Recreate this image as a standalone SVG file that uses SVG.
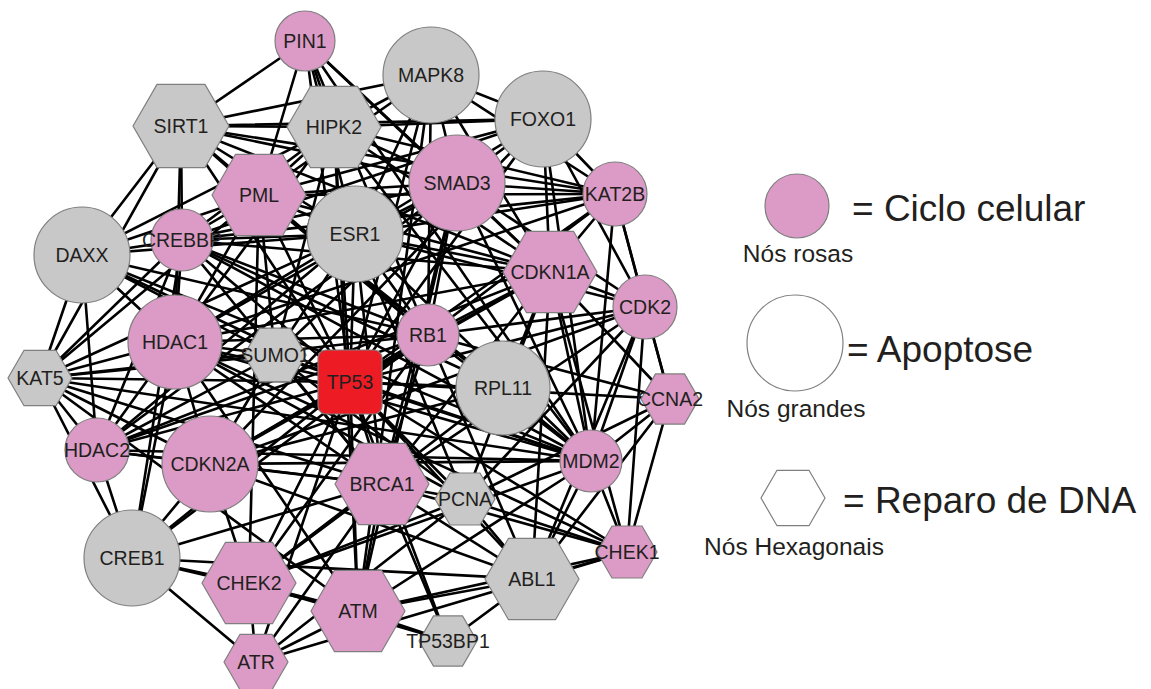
<svg xmlns="http://www.w3.org/2000/svg" width="1151" height="689" viewBox="0 0 1151 689">
  <style>
    .edges line { stroke: #000; stroke-width: 2.6; stroke-linecap: round; }
    .pink { fill: #DC9BC6; stroke: #7F7F7F; stroke-width: 1.2; }
    .grey { fill: #C8C8C8; stroke: #7F7F7F; stroke-width: 1.2; }
    .hub { fill: #ED1C24; stroke: #7F7F7F; stroke-width: 1.2; }
    .lbl { font-family: "Liberation Sans", Arial, sans-serif; font-size: 19.5px; fill: #231F20; text-anchor: middle; }
    .leg { font-family: "Liberation Sans", Arial, sans-serif; font-size: 37px; fill: #231F20; }
    .sub { font-family: "Liberation Sans", Arial, sans-serif; font-size: 24.5px; fill: #231F20; text-anchor: middle; }
  </style>
  <rect width="1151" height="689" fill="#fff"/>

  <!-- interaction edges, drawn centre to centre beneath the nodes -->
  <g id="edges" class="edges">
    <!-- TP53 hub -->
    <line x1="350" y1="382" x2="305" y2="41"/>
    <line x1="350" y1="382" x2="181" y2="126"/>
    <line x1="350" y1="382" x2="334" y2="127"/>
    <line x1="350" y1="382" x2="431" y2="75"/>
    <line x1="350" y1="382" x2="543" y2="119"/>
    <line x1="350" y1="382" x2="457" y2="183"/>
    <line x1="350" y1="382" x2="615" y2="194"/>
    <line x1="350" y1="382" x2="259" y2="195"/>
    <line x1="350" y1="382" x2="182" y2="240"/>
    <line x1="350" y1="382" x2="355" y2="234"/>
    <line x1="350" y1="382" x2="82" y2="255"/>
    <line x1="350" y1="382" x2="550" y2="272"/>
    <line x1="350" y1="382" x2="645" y2="307"/>
    <line x1="350" y1="382" x2="175" y2="342"/>
    <line x1="350" y1="382" x2="275" y2="355"/>
    <line x1="350" y1="382" x2="428" y2="335"/>
    <line x1="350" y1="382" x2="503" y2="388"/>
    <line x1="350" y1="382" x2="40" y2="378"/>
    <line x1="350" y1="382" x2="670" y2="399"/>
    <line x1="350" y1="382" x2="97" y2="450"/>
    <line x1="350" y1="382" x2="210" y2="464"/>
    <line x1="350" y1="382" x2="382" y2="484"/>
    <line x1="350" y1="382" x2="465" y2="499"/>
    <line x1="350" y1="382" x2="591" y2="461"/>
    <line x1="350" y1="382" x2="627" y2="552"/>
    <line x1="350" y1="382" x2="132" y2="558"/>
    <line x1="350" y1="382" x2="249" y2="583"/>
    <line x1="350" y1="382" x2="532" y2="579"/>
    <line x1="350" y1="382" x2="358" y2="611"/>
    <line x1="350" y1="382" x2="448" y2="641"/>
    <line x1="350" y1="382" x2="256" y2="662"/>
    <!-- PIN1 -->
    <line x1="305" y1="41" x2="181" y2="126"/>
    <line x1="305" y1="41" x2="259" y2="195"/>
    <line x1="305" y1="41" x2="334" y2="127"/>
    <line x1="305" y1="41" x2="457" y2="183"/>
    <line x1="305" y1="41" x2="355" y2="234"/>
    <line x1="305" y1="41" x2="428" y2="335"/>
    <line x1="305" y1="41" x2="591" y2="461"/>
    <line x1="305" y1="41" x2="550" y2="272"/>
    <!-- SIRT1 -->
    <line x1="181" y1="126" x2="334" y2="127"/>
    <line x1="181" y1="126" x2="431" y2="75"/>
    <line x1="181" y1="126" x2="543" y2="119"/>
    <line x1="181" y1="126" x2="259" y2="195"/>
    <line x1="181" y1="126" x2="82" y2="255"/>
    <line x1="181" y1="126" x2="182" y2="240"/>
    <line x1="181" y1="126" x2="175" y2="342"/>
    <line x1="181" y1="126" x2="355" y2="234"/>
    <line x1="181" y1="126" x2="550" y2="272"/>
    <line x1="181" y1="126" x2="428" y2="335"/>
    <line x1="181" y1="126" x2="615" y2="194"/>
    <line x1="181" y1="126" x2="40" y2="378"/>
    <line x1="181" y1="126" x2="457" y2="183"/>
    <!-- HIPK2 -->
    <line x1="334" y1="127" x2="259" y2="195"/>
    <line x1="334" y1="127" x2="182" y2="240"/>
    <line x1="334" y1="127" x2="591" y2="461"/>
    <line x1="334" y1="127" x2="457" y2="183"/>
    <line x1="334" y1="127" x2="358" y2="611"/>
    <line x1="334" y1="127" x2="550" y2="272"/>
    <line x1="334" y1="127" x2="82" y2="255"/>
    <line x1="334" y1="127" x2="615" y2="194"/>
    <line x1="334" y1="127" x2="175" y2="342"/>
    <line x1="334" y1="127" x2="431" y2="75"/>
    <line x1="334" y1="127" x2="275" y2="355"/>
    <line x1="334" y1="127" x2="543" y2="119"/>
    <!-- MAPK8 -->
    <line x1="431" y1="75" x2="457" y2="183"/>
    <line x1="431" y1="75" x2="543" y2="119"/>
    <line x1="431" y1="75" x2="355" y2="234"/>
    <line x1="431" y1="75" x2="259" y2="195"/>
    <line x1="431" y1="75" x2="428" y2="335"/>
    <line x1="431" y1="75" x2="550" y2="272"/>
    <line x1="431" y1="75" x2="358" y2="611"/>
    <line x1="431" y1="75" x2="615" y2="194"/>
    <!-- FOXO1 -->
    <line x1="543" y1="119" x2="457" y2="183"/>
    <line x1="543" y1="119" x2="615" y2="194"/>
    <line x1="543" y1="119" x2="550" y2="272"/>
    <line x1="543" y1="119" x2="645" y2="307"/>
    <line x1="543" y1="119" x2="591" y2="461"/>
    <line x1="543" y1="119" x2="355" y2="234"/>
    <line x1="543" y1="119" x2="182" y2="240"/>
    <line x1="543" y1="119" x2="259" y2="195"/>
    <line x1="543" y1="119" x2="210" y2="464"/>
    <!-- KAT2B -->
    <line x1="615" y1="194" x2="457" y2="183"/>
    <line x1="615" y1="194" x2="550" y2="272"/>
    <line x1="615" y1="194" x2="645" y2="307"/>
    <line x1="615" y1="194" x2="670" y2="399"/>
    <line x1="615" y1="194" x2="591" y2="461"/>
    <line x1="615" y1="194" x2="355" y2="234"/>
    <line x1="615" y1="194" x2="428" y2="335"/>
    <line x1="615" y1="194" x2="175" y2="342"/>
    <line x1="615" y1="194" x2="259" y2="195"/>
    <line x1="615" y1="194" x2="182" y2="240"/>
    <!-- CDK2 -->
    <line x1="645" y1="307" x2="550" y2="272"/>
    <line x1="645" y1="307" x2="670" y2="399"/>
    <line x1="645" y1="307" x2="591" y2="461"/>
    <line x1="645" y1="307" x2="428" y2="335"/>
    <line x1="645" y1="307" x2="627" y2="552"/>
    <line x1="645" y1="307" x2="532" y2="579"/>
    <line x1="645" y1="307" x2="382" y2="484"/>
    <line x1="645" y1="307" x2="465" y2="499"/>
    <line x1="645" y1="307" x2="210" y2="464"/>
    <line x1="645" y1="307" x2="457" y2="183"/>
    <line x1="645" y1="307" x2="355" y2="234"/>
    <!-- CCNA2 -->
    <line x1="670" y1="399" x2="550" y2="272"/>
    <line x1="670" y1="399" x2="591" y2="461"/>
    <line x1="670" y1="399" x2="627" y2="552"/>
    <line x1="670" y1="399" x2="428" y2="335"/>
    <line x1="670" y1="399" x2="465" y2="499"/>
    <line x1="670" y1="399" x2="532" y2="579"/>
    <!-- MDM2 -->
    <line x1="591" y1="461" x2="503" y2="388"/>
    <line x1="591" y1="461" x2="550" y2="272"/>
    <line x1="591" y1="461" x2="210" y2="464"/>
    <line x1="591" y1="461" x2="428" y2="335"/>
    <line x1="591" y1="461" x2="532" y2="579"/>
    <line x1="591" y1="461" x2="627" y2="552"/>
    <line x1="591" y1="461" x2="358" y2="611"/>
    <line x1="591" y1="461" x2="457" y2="183"/>
    <line x1="591" y1="461" x2="175" y2="342"/>
    <line x1="591" y1="461" x2="182" y2="240"/>
    <line x1="591" y1="461" x2="259" y2="195"/>
    <line x1="591" y1="461" x2="275" y2="355"/>
    <line x1="591" y1="461" x2="249" y2="583"/>
    <line x1="591" y1="461" x2="355" y2="234"/>
    <line x1="591" y1="461" x2="82" y2="255"/>
    <!-- CHEK1 -->
    <line x1="627" y1="552" x2="256" y2="662"/>
    <line x1="627" y1="552" x2="358" y2="611"/>
    <line x1="627" y1="552" x2="382" y2="484"/>
    <line x1="627" y1="552" x2="532" y2="579"/>
    <line x1="627" y1="552" x2="465" y2="499"/>
    <line x1="627" y1="552" x2="550" y2="272"/>
    <!-- ABL1 -->
    <line x1="532" y1="579" x2="358" y2="611"/>
    <line x1="532" y1="579" x2="382" y2="484"/>
    <line x1="532" y1="579" x2="428" y2="335"/>
    <line x1="532" y1="579" x2="448" y2="641"/>
    <line x1="532" y1="579" x2="210" y2="464"/>
    <line x1="532" y1="579" x2="132" y2="558"/>
    <line x1="532" y1="579" x2="465" y2="499"/>
    <!-- TP53BP1 -->
    <line x1="448" y1="641" x2="358" y2="611"/>
    <line x1="448" y1="641" x2="382" y2="484"/>
    <line x1="448" y1="641" x2="249" y2="583"/>
    <!-- ATM -->
    <line x1="358" y1="611" x2="382" y2="484"/>
    <line x1="358" y1="611" x2="249" y2="583"/>
    <line x1="358" y1="611" x2="256" y2="662"/>
    <line x1="358" y1="611" x2="132" y2="558"/>
    <line x1="358" y1="611" x2="175" y2="342"/>
    <line x1="358" y1="611" x2="40" y2="378"/>
    <line x1="358" y1="611" x2="457" y2="183"/>
    <!-- ATR -->
    <line x1="256" y1="662" x2="249" y2="583"/>
    <line x1="256" y1="662" x2="382" y2="484"/>
    <line x1="256" y1="662" x2="132" y2="558"/>
    <line x1="256" y1="662" x2="465" y2="499"/>
    <!-- CHEK2 -->
    <line x1="249" y1="583" x2="382" y2="484"/>
    <line x1="249" y1="583" x2="210" y2="464"/>
    <line x1="249" y1="583" x2="132" y2="558"/>
    <line x1="249" y1="583" x2="503" y2="388"/>
    <line x1="249" y1="583" x2="465" y2="499"/>
    <line x1="249" y1="583" x2="259" y2="195"/>
    <line x1="249" y1="583" x2="428" y2="335"/>
    <!-- CREB1 -->
    <line x1="132" y1="558" x2="182" y2="240"/>
    <line x1="132" y1="558" x2="175" y2="342"/>
    <line x1="132" y1="558" x2="97" y2="450"/>
    <line x1="132" y1="558" x2="210" y2="464"/>
    <line x1="132" y1="558" x2="40" y2="378"/>
    <line x1="132" y1="558" x2="428" y2="335"/>
    <line x1="132" y1="558" x2="382" y2="484"/>
    <!-- HDAC2 -->
    <line x1="97" y1="450" x2="175" y2="342"/>
    <line x1="97" y1="450" x2="40" y2="378"/>
    <line x1="97" y1="450" x2="82" y2="255"/>
    <line x1="97" y1="450" x2="275" y2="355"/>
    <line x1="97" y1="450" x2="428" y2="335"/>
    <line x1="97" y1="450" x2="382" y2="484"/>
    <line x1="97" y1="450" x2="210" y2="464"/>
    <line x1="97" y1="450" x2="591" y2="461"/>
    <line x1="97" y1="450" x2="355" y2="234"/>
    <line x1="97" y1="450" x2="457" y2="183"/>
    <line x1="97" y1="450" x2="550" y2="272"/>
    <line x1="97" y1="450" x2="182" y2="240"/>
    <!-- CDKN2A -->
    <line x1="210" y1="464" x2="428" y2="335"/>
    <line x1="210" y1="464" x2="175" y2="342"/>
    <line x1="210" y1="464" x2="550" y2="272"/>
    <line x1="210" y1="464" x2="503" y2="388"/>
    <line x1="210" y1="464" x2="382" y2="484"/>
    <!-- KAT5 -->
    <line x1="40" y1="378" x2="175" y2="342"/>
    <line x1="40" y1="378" x2="82" y2="255"/>
    <line x1="40" y1="378" x2="182" y2="240"/>
    <line x1="40" y1="378" x2="275" y2="355"/>
    <line x1="40" y1="378" x2="382" y2="484"/>
    <line x1="40" y1="378" x2="428" y2="335"/>
    <line x1="40" y1="378" x2="259" y2="195"/>
    <line x1="40" y1="378" x2="355" y2="234"/>
    <line x1="40" y1="378" x2="210" y2="464"/>
    <line x1="40" y1="378" x2="591" y2="461"/>
    <!-- DAXX -->
    <line x1="82" y1="255" x2="259" y2="195"/>
    <line x1="82" y1="255" x2="175" y2="342"/>
    <line x1="82" y1="255" x2="182" y2="240"/>
    <line x1="82" y1="255" x2="275" y2="355"/>
    <line x1="82" y1="255" x2="355" y2="234"/>
    <line x1="82" y1="255" x2="428" y2="335"/>
    <!-- CREBBP -->
    <line x1="182" y1="240" x2="259" y2="195"/>
    <line x1="182" y1="240" x2="175" y2="342"/>
    <line x1="182" y1="240" x2="457" y2="183"/>
    <line x1="182" y1="240" x2="355" y2="234"/>
    <line x1="182" y1="240" x2="550" y2="272"/>
    <line x1="182" y1="240" x2="428" y2="335"/>
    <line x1="182" y1="240" x2="382" y2="484"/>
    <line x1="182" y1="240" x2="503" y2="388"/>
    <!-- HDAC1 -->
    <line x1="175" y1="342" x2="275" y2="355"/>
    <line x1="175" y1="342" x2="428" y2="335"/>
    <line x1="175" y1="342" x2="355" y2="234"/>
    <line x1="175" y1="342" x2="457" y2="183"/>
    <line x1="175" y1="342" x2="382" y2="484"/>
    <line x1="175" y1="342" x2="465" y2="499"/>
    <line x1="175" y1="342" x2="550" y2="272"/>
    <line x1="175" y1="342" x2="259" y2="195"/>
    <line x1="175" y1="342" x2="627" y2="552"/>
    <!-- PML -->
    <line x1="259" y1="195" x2="275" y2="355"/>
    <line x1="259" y1="195" x2="457" y2="183"/>
    <line x1="259" y1="195" x2="428" y2="335"/>
    <line x1="259" y1="195" x2="355" y2="234"/>
    <line x1="259" y1="195" x2="550" y2="272"/>
    <line x1="259" y1="195" x2="503" y2="388"/>
    <!-- ESR1 -->
    <line x1="355" y1="234" x2="457" y2="183"/>
    <line x1="355" y1="234" x2="428" y2="335"/>
    <line x1="355" y1="234" x2="550" y2="272"/>
    <line x1="355" y1="234" x2="382" y2="484"/>
    <line x1="355" y1="234" x2="275" y2="355"/>
    <line x1="355" y1="234" x2="465" y2="499"/>
    <!-- SMAD3 -->
    <line x1="457" y1="183" x2="550" y2="272"/>
    <line x1="457" y1="183" x2="428" y2="335"/>
    <line x1="457" y1="183" x2="275" y2="355"/>
    <line x1="457" y1="183" x2="382" y2="484"/>
    <!-- CDKN1A -->
    <line x1="550" y1="272" x2="465" y2="499"/>
    <line x1="550" y1="272" x2="428" y2="335"/>
    <line x1="550" y1="272" x2="382" y2="484"/>
    <line x1="550" y1="272" x2="532" y2="579"/>
    <line x1="550" y1="272" x2="503" y2="388"/>
    <!-- RB1, SUMO1, BRCA1 -->
    <line x1="428" y1="335" x2="382" y2="484"/>
    <line x1="275" y1="355" x2="465" y2="499"/>
    <line x1="275" y1="355" x2="382" y2="484"/>
    <line x1="275" y1="355" x2="210" y2="464"/>
    <line x1="382" y1="484" x2="465" y2="499"/>
  </g>

  <!-- nodes -->
  <g id="node-PIN1"><circle class="pink" cx="305" cy="41" r="30"/><text class="lbl" x="305" y="48">PIN1</text></g>
  <g id="node-SIRT1"><polygon class="grey" points="133,126 157,84.4 205,84.4 229,126 205,167.6 157,167.6"/><text class="lbl" x="181" y="133">SIRT1</text></g>
  <g id="node-HIPK2"><polygon class="grey" points="287,127 310.5,86.3 357.5,86.3 381,127 357.5,167.7 310.5,167.7"/><text class="lbl" x="334" y="134">HIPK2</text></g>
  <g id="node-MAPK8"><circle class="grey" cx="431" cy="75" r="48"/><text class="lbl" x="431" y="82">MAPK8</text></g>
  <g id="node-FOXO1"><circle class="grey" cx="543" cy="119" r="48"/><text class="lbl" x="543" y="126">FOXO1</text></g>
  <g id="node-SMAD3"><circle class="pink" cx="457" cy="183" r="48"/><text class="lbl" x="457" y="190">SMAD3</text></g>
  <g id="node-KAT2B"><circle class="pink" cx="615" cy="194" r="32"/><text class="lbl" x="615" y="201">KAT2B</text></g>
  <g id="node-PML"><polygon class="pink" points="212,195 235.5,154.3 282.5,154.3 306,195 282.5,235.7 235.5,235.7"/><text class="lbl" x="259" y="202">PML</text></g>
  <g id="node-ESR1"><circle class="grey" cx="355" cy="234" r="48"/><text class="lbl" x="355" y="241">ESR1</text></g>
  <g id="node-CREBBP"><circle class="pink" cx="182" cy="240" r="31"/><text class="lbl" x="182" y="247">CREBBP</text></g>
  <g id="node-DAXX"><circle class="grey" cx="82" cy="255" r="48"/><text class="lbl" x="82" y="262">DAXX</text></g>
  <g id="node-CDKN1A"><polygon class="pink" points="503,272 526.5,231.3 573.5,231.3 597,272 573.5,312.7 526.5,312.7"/><text class="lbl" x="550" y="279">CDKN1A</text></g>
  <g id="node-CDK2"><circle class="pink" cx="645" cy="307" r="32"/><text class="lbl" x="645" y="314">CDK2</text></g>
  <g id="node-HDAC1"><circle class="pink" cx="175" cy="342" r="47"/><text class="lbl" x="175" y="349">HDAC1</text></g>
  <g id="node-SUMO1"><polygon class="grey" points="244,355 259.5,328.2 290.5,328.2 306,355 290.5,381.8 259.5,381.8"/><text class="lbl" x="275" y="362">SUMO1</text></g>
  <g id="node-RB1"><circle class="pink" cx="428" cy="335" r="31"/><text class="lbl" x="428" y="342">RB1</text></g>
  <g id="node-TP53"><rect class="hub" x="318" y="350" width="64" height="64" rx="8"/><text class="lbl" x="350" y="389">TP53</text></g>
  <g id="node-RPL11"><circle class="grey" cx="503" cy="388" r="47"/><text class="lbl" x="503" y="395">RPL11</text></g>
  <g id="node-KAT5"><polygon class="grey" points="8,378 24,350.3 56,350.3 72,378 56,405.7 24,405.7"/><text class="lbl" x="40" y="385">KAT5</text></g>
  <g id="node-CCNA2"><polygon class="pink" points="641,399 655.5,373.9 684.5,373.9 699,399 684.5,424.1 655.5,424.1"/><text class="lbl" x="670" y="406">CCNA2</text></g>
  <g id="node-HDAC2"><circle class="pink" cx="97" cy="450" r="32"/><text class="lbl" x="97" y="457">HDAC2</text></g>
  <g id="node-CDKN2A"><circle class="pink" cx="210" cy="464" r="48"/><text class="lbl" x="210" y="471">CDKN2A</text></g>
  <g id="node-MDM2"><circle class="pink" cx="591" cy="461" r="31"/><text class="lbl" x="591" y="468">MDM2</text></g>
  <g id="node-BRCA1"><polygon class="pink" points="335,484 358.5,443.3 405.5,443.3 429,484 405.5,524.7 358.5,524.7"/><text class="lbl" x="382" y="491">BRCA1</text></g>
  <g id="node-PCNA"><polygon class="grey" points="435,499 450,473 480,473 495,499 480,525 450,525"/><text class="lbl" x="465" y="506">PCNA</text></g>
  <g id="node-CHEK1"><polygon class="pink" points="597,552 612,526 642,526 657,552 642,578 612,578"/><text class="lbl" x="627" y="559">CHEK1</text></g>
  <g id="node-CREB1"><circle class="grey" cx="132" cy="558" r="48"/><text class="lbl" x="132" y="565">CREB1</text></g>
  <g id="node-CHEK2"><polygon class="pink" points="202,583 225.5,542.3 272.5,542.3 296,583 272.5,623.7 225.5,623.7"/><text class="lbl" x="249" y="590">CHEK2</text></g>
  <g id="node-ABL1"><polygon class="grey" points="485,579 508.5,538.3 555.5,538.3 579,579 555.5,619.7 508.5,619.7"/><text class="lbl" x="532" y="586">ABL1</text></g>
  <g id="node-ATM"><polygon class="pink" points="311,611 334.5,570.3 381.5,570.3 405,611 381.5,651.7 334.5,651.7"/><text class="lbl" x="358" y="618">ATM</text></g>
  <g id="node-TP53BP1"><polygon class="grey" points="419,641 433.5,615.9 462.5,615.9 477,641 462.5,666.1 433.5,666.1"/><text class="lbl" x="448" y="648">TP53BP1</text></g>
  <g id="node-ATR"><polygon class="pink" points="224,662 240,634.3 272,634.3 288,662 272,689.7 240,689.7"/><text class="lbl" x="256" y="669">ATR</text></g>

  <!-- legend -->
  <g id="legend">
    <g id="legend-cycle">
      <circle class="pink" cx="797" cy="206" r="32"/>
      <text class="leg" x="852" y="221">= Ciclo celular</text>
      <text class="sub" x="798" y="262">Nós rosas</text>
    </g>
    <g id="legend-apoptosis">
      <circle cx="795" cy="343" r="48" fill="#fff" stroke="#7F7F7F" stroke-width="1.2"/>
      <text class="leg" x="847" y="362">= Apoptose</text>
      <text class="sub" x="796" y="417">Nós grandes</text>
    </g>
    <g id="legend-repair">
      <polygon points="761,498 777,470.3 809,470.3 825,498 809,525.7 777,525.7" fill="#fff" stroke="#7F7F7F" stroke-width="1.2"/>
      <text class="leg" x="843" y="513">= Reparo de DNA</text>
      <text class="sub" x="794" y="555">Nós Hexagonais</text>
    </g>
  </g>
</svg>
